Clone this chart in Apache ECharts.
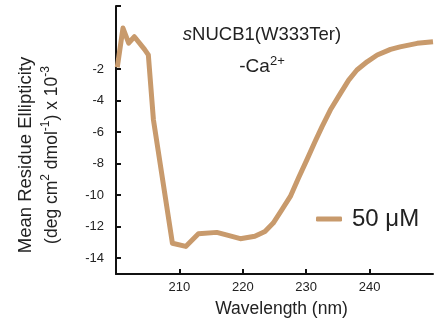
<!DOCTYPE html>
<html><head><meta charset="utf-8">
<script src="https://cdn.jsdelivr.net/npm/echarts@6/dist/echarts.min.js"></script>
<style>html,body{margin:0;padding:0;background:#fff}#c{width:435px;height:324px}</style>
</head><body><div id="c"></div>
<script>
const wavelength = [200.2, 201.1, 202.0, 202.9, 204.5, 205.1, 205.9, 208.9, 211.0, 213.0, 215.9, 217.7, 219.6, 221.9, 223.5, 224.8, 226.2, 227.5, 228.8, 230.1, 231.4, 232.5, 233.8, 235.4, 236.7, 238.0, 239.6, 241.2, 243.3, 244.8, 247.5, 250.0];
const ellipticity = [-1.9, 0.6, -0.35, 0.05, -0.75, -1.1, -5.2, -13.05, -13.25, -12.45, -12.36, -12.55, -12.76, -12.6, -12.3, -11.77, -10.9, -10.08, -8.9, -7.76, -6.6, -5.65, -4.6, -3.54, -2.7, -2.06, -1.54, -1.11, -0.75, -0.59, -0.37, -0.27];
const xTickValues = [210, 220, 230, 240];
const yLabelValues = [-14, -12, -10, -8, -6, -4, -2];
const yTickValues = [-14, -12, -10, -8, -6, -4, -2, 2];
const seriesName = '50 μM';
const titleLine1 = '{it|s}NUCB1(W333Ter)';
const titleLine2 = '-Ca{sup|2+}';
const yName1 = 'Mean Residue Ellipticity';
const yName2 = '(deg cm{sup|2} dmol{sup|-1}) x 10{sup|-3}';
const xName = 'Wavelength (nm)';

const FONT = '"Liberation Sans", Arial, sans-serif';
const LINE_COLOR = '#C89A6C';
const AX = '#111';

const chart = echarts.init(document.getElementById('c'), null, {renderer: 'canvas'});
const data = wavelength.map((w, i) => [w, ellipticity[i]]);

chart.setOption({
  animation: false,
  backgroundColor: '#fff',
  grid: {left: 116, right: 2, top: 6, bottom: 50, containLabel: false},
  xAxis: {
    type: 'value', min: 200, max: 250,
    name: xName, nameLocation: 'middle', nameGap: 26,
    nameTextStyle: {fontFamily: FONT, fontSize: 17.5, color: '#222', padding: [0, 0, 0, 14]},
    axisLine: {show: true, onZero: false, lineStyle: {color: AX, width: 2}},
    axisTick: {show: true, inside: true, length: 5, lineStyle: {color: AX, width: 2}, customValues: xTickValues},
    axisLabel: {fontFamily: FONT, fontSize: 13, color: '#222', margin: 7, customValues: xTickValues},
    splitLine: {show: false}
  },
  yAxis: {
    type: 'value', min: -15, max: 2,
    axisLine: {show: true, onZero: false, lineStyle: {color: AX, width: 2}},
    axisTick: {show: true, inside: true, length: 5, lineStyle: {color: AX, width: 2}, customValues: yTickValues},
    axisLabel: {fontFamily: FONT, fontSize: 13, color: '#222', margin: 12, customValues: yLabelValues},
    splitLine: {show: false}
  },
  legend: {
    data: [seriesName], left: 311, top: 202,
    icon: 'roundRect', itemWidth: 26, itemHeight: 5,
    textStyle: {fontFamily: FONT, fontSize: 24, color: '#222', padding: [0, 0, 0, 5]}
  },
  series: [{
    name: seriesName, type: 'line', data: data, showSymbol: false, symbol: 'none',
    lineStyle: {color: LINE_COLOR, width: 5, join: 'round'},
    itemStyle: {color: LINE_COLOR}
  }],
  graphic: [
    {type: 'text', x: 262, y: 35, style: {text: titleLine1, align: 'center', verticalAlign: 'middle', fontFamily: FONT, fontSize: 18.5, fill: '#222',
      rich: {it: {fontStyle: 'italic', fontFamily: FONT, fontSize: 18.5, fill: '#222'}}}},
    {type: 'text', x: 262, y: 67, style: {text: titleLine2, align: 'center', verticalAlign: 'middle', fontFamily: FONT, fontSize: 19, fill: '#222', lineHeight: 24,
      rich: {sup: {fontFamily: FONT, fontSize: 13, lineHeight: 13, verticalAlign: 'top', fill: '#222'}}}},
    {type: 'text', x: 26, y: 155, rotation: Math.PI / 2, style: {text: yName1, align: 'center', verticalAlign: 'middle', fontFamily: FONT, fontSize: 18.5, fill: '#222'}},
    {type: 'text', x: 52, y: 155, rotation: Math.PI / 2, style: {text: yName2, align: 'center', verticalAlign: 'middle', fontFamily: FONT, fontSize: 17.5, fill: '#222', lineHeight: 24,
      rich: {sup: {fontFamily: FONT, fontSize: 12, lineHeight: 12, verticalAlign: 'top', fill: '#222'}}}}
  ]
});
</script></body></html>
